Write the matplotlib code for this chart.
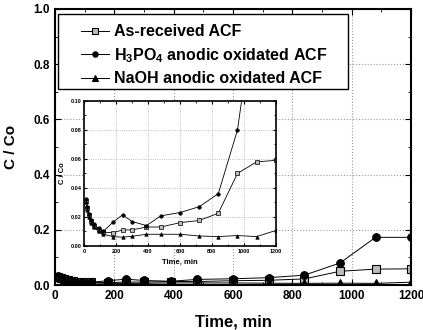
# Adsorption breakthrough curves with zoomed inset
import numpy as np
import matplotlib
matplotlib.use('Agg')
import matplotlib.pyplot as plt
from matplotlib.ticker import MultipleLocator
from matplotlib.patches import Rectangle

plt.rcParams['font.family'] = ['Liberation Sans', 'DejaVu Sans']
plt.rcParams['font.weight'] = 'bold'
plt.rcParams['mathtext.fontset'] = 'custom'
plt.rcParams['mathtext.rm'] = 'Liberation Sans:bold'
plt.rcParams['mathtext.bf'] = 'Liberation Sans:bold'

# Data
time = [10, 20, 30, 45, 60, 90, 120, 180, 240, 300, 390, 480, 600, 720, 840, 960, 1080, 1200]
as_received = [0.031, 0.026, 0.021, 0.017, 0.014, 0.011, 0.0095, 0.009, 0.011, 0.011, 0.013,
               0.013, 0.016, 0.0175, 0.0225, 0.050, 0.058, 0.059]
h3po4 = [0.032, 0.027, 0.022, 0.018, 0.015, 0.012, 0.010, 0.0163, 0.0214, 0.0168, 0.014,
         0.0207, 0.023, 0.027, 0.036, 0.080, 0.173, 0.173]
naoh = [0.030, 0.025, 0.020, 0.016, 0.013, 0.010, 0.008, 0.0064, 0.006, 0.0066, 0.008,
        0.008, 0.008, 0.0068, 0.0064, 0.0071, 0.0064, 0.0106]

labels = ['As-received ACF', r'$\mathregular{H_3PO_4}$ anodic oxidated ACF', 'NaOH anodic oxidated ACF']
series = [as_received, h3po4, naoh]
markers = ['s', 'o', '^']
fills = ['#bbbbbb', 'black', 'black']

fig = plt.figure(figsize=(4.23, 3.30), dpi=100)
ax = fig.add_axes([0.130, 0.136, 0.842, 0.837])

for y, m, fc, lab in zip(series, markers, fills, labels):
    ax.plot(time, y, color='black', lw=0.7, marker=m, ms=5.5, mfc=fc, mec='black',
            mew=0.8, label=lab)

ax.set_xlim(0, 1200)
ax.set_ylim(0, 1.0)
ax.xaxis.set_major_locator(MultipleLocator(200))
ax.xaxis.set_minor_locator(MultipleLocator(100))
ax.yaxis.set_major_locator(MultipleLocator(0.2))
ax.yaxis.set_minor_locator(MultipleLocator(0.1))
ax.tick_params(which='both', direction='in', top=True, right=True, labelsize=8.5)
ax.tick_params(which='major', length=4)
ax.tick_params(which='minor', length=2)
ax.grid(True, which='major', color='#999999', linestyle=':', linewidth=0.8)
for s in ax.spines.values():
    s.set_linewidth(1.5)
ax.set_xlabel('Time, min', fontsize=12, fontweight='bold', labelpad=9)
ax.set_ylabel('C / Co', fontsize=11, fontweight='bold', labelpad=11)

# legend box drawn separately so the padding matches the original
ax.add_patch(Rectangle((0.008, 0.710), 0.815, 0.272, transform=ax.transAxes,
                       facecolor='white', edgecolor='black', lw=1.0, zorder=4))
leg = ax.legend(loc='upper left', bbox_to_anchor=(0.074, 0.944), borderaxespad=0,
                fontsize=11.5, handlelength=1.75, handletextpad=0.3, markerscale=0.7,
                frameon=False, borderpad=0, labelspacing=0.42)
leg.set_zorder(5)

# Inset
axin = fig.add_axes([0.199, 0.255, 0.453, 0.439])
for y, m, fc in zip(series, markers, fills):
    axin.plot(time, y, color='black', lw=0.6, marker=m, ms=2.5, mfc=fc, mec='black', mew=0.5)
axin.set_xlim(0, 1200)
axin.set_ylim(0, 0.10)
axin.xaxis.set_major_locator(MultipleLocator(200))
axin.xaxis.set_minor_locator(MultipleLocator(100))
axin.yaxis.set_major_locator(MultipleLocator(0.02))
axin.yaxis.set_minor_locator(MultipleLocator(0.01))
axin.tick_params(which='both', direction='in', top=True, right=True, labelsize=4, pad=2)
axin.tick_params(which='major', length=2.5)
axin.tick_params(which='minor', length=1.5)
axin.grid(True, which='major', color='#aaaaaa', linestyle=':', linewidth=0.6)
for s in axin.spines.values():
    s.set_linewidth(1.2)
axin.set_xlabel('Time, min', fontsize=5.5, fontweight='bold', labelpad=4)
axin.set_ylabel('C / Co', fontsize=5.5, fontweight='bold', labelpad=3)

plt.savefig('out.png', dpi=100)
